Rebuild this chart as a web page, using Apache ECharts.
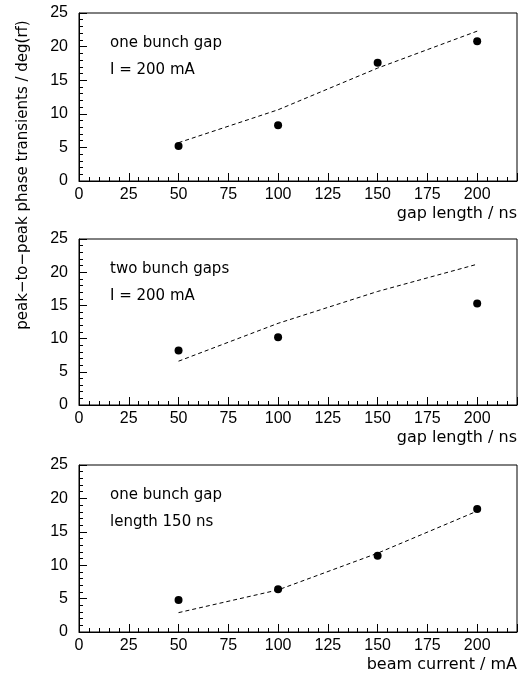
<!DOCTYPE html>
<html lang="en">
<head>
    <meta charset="UTF-8">
    <title>phase transients</title>
    <script src="https://cdn.jsdelivr.net/npm/echarts@6/dist/echarts.min.js"></script>
    <style>
        html, body { margin: 0; padding: 0; background: #fff; }
        #main { width: 527px; height: 677px; }
    </style>
</head>
<body>
<div id="main"></div>
<script type="text/javascript">
  // x positions (ns or mA)
  var xVals = [50, 100, 150, 200];

  // panel 1: one bunch gap, I = 200 mA
  var meas1 = [5.2, 8.3, 17.6, 20.8];
  var calc1 = [5.7, 10.6, 16.8, 22.3];
  // panel 2: two bunch gaps, I = 200 mA (no point at 150)
  var meas2X = [50, 100, 200];
  var meas2 = [8.2, 10.2, 15.3];
  var calc2 = [6.6, 12.3, 17.1, 21.2];
  // panel 3: one bunch gap, length 150 ns
  var meas3 = [4.8, 6.4, 11.4, 18.4];
  var calc3 = [2.9, 6.3, 11.8, 18.1];

  var panelText = [
    ['one bunch gap', 'I = 200 mA'],
    ['two bunch gaps', 'I = 200 mA'],
    ['one bunch gap', 'length 150 ns']
  ];
  var xNames = ['gap length / ns', 'gap length / ns', 'beam current / mA'];
  var yTitle = 'peak\u2212to\u2212peak phase transients / deg(rf)';

  var FONT = 'DejaVu Sans';
  var NUMFONT = 'Liberation Sans';
  var tops = [13, 239, 465];
  var heights = [168, 166, 167];

  function pairs(xs, ys) {
    var out = [];
    for (var i = 0; i < ys.length; i++) out.push([xs[i], ys[i]]);
    return out;
  }

  var grids = [], xAxes = [], yAxes = [], series = [], graphics = [];
  var measList = [pairs(xVals, meas1), pairs(meas2X, meas2), pairs(xVals, meas3)];
  var calcList = [pairs(xVals, calc1), pairs(xVals, calc2), pairs(xVals, calc3)];

  for (var p = 0; p < 3; p++) {
    grids.push({
      left: 79, top: tops[p], width: 438, height: heights[p],
      show: true, borderColor: '#000', borderWidth: 1, backgroundColor: 'transparent'
    });
    // major axis with labels
    xAxes.push({
      gridIndex: p, type: 'value', min: 0, max: 220, interval: 25, position: 'bottom',
      axisLine: { lineStyle: { color: '#000', width: 1 } },
      axisTick: { inside: true, length: 8, lineStyle: { color: '#000' } },
      axisLabel: {
        color: '#000', fontFamily: NUMFONT, fontSize: 16, margin: 6,
        formatter: function (v) { return v > 200 ? '' : v; }
      },
      splitLine: { show: false }
    });
    // minor ticks every 5
    xAxes.push({
      gridIndex: p, type: 'value', min: 0, max: 220, interval: 5, position: 'bottom', offset: 0,
      axisLine: { show: false },
      axisTick: { inside: true, length: 4, lineStyle: { color: '#000' } },
      axisLabel: { show: false },
      splitLine: { show: false }
    });
    yAxes.push({
      gridIndex: p, type: 'value', min: 0, max: 25, interval: 5, position: 'left',
      axisLine: { show: true, lineStyle: { color: '#000', width: 1 } },
      axisTick: { show: true, inside: true, length: 8, lineStyle: { color: '#000' } },
      axisLabel: { color: '#000', fontFamily: NUMFONT, fontSize: 16, margin: 11 },
      splitLine: { show: false }
    });
    yAxes.push({
      gridIndex: p, type: 'value', min: 0, max: 25, interval: 1, position: 'left', offset: 0,
      axisLine: { show: false },
      axisTick: { show: true, inside: true, length: 4, lineStyle: { color: '#000' } },
      axisLabel: { show: false },
      splitLine: { show: false }
    });

    series.push({
      type: 'line', xAxisIndex: p * 2, yAxisIndex: p * 2,
      data: calcList[p], showSymbol: false, symbol: 'none', silent: true,
      lineStyle: { color: '#000', width: 1, type: [4, 3] }
    });
    series.push({
      type: 'scatter', xAxisIndex: p * 2, yAxisIndex: p * 2,
      data: measList[p], symbol: 'circle', symbolSize: 8,
      itemStyle: { color: '#000', opacity: 1 }
    });

    graphics.push({
      type: 'text', left: 110, top: tops[p] + 23,
      style: { text: panelText[p][0], fill: '#000', font: '15px "' + FONT + '"' }
    });
    graphics.push({
      type: 'text', left: 110, top: tops[p] + 50,
      style: { text: panelText[p][1], fill: '#000', font: '15px "' + FONT + '"' }
    });
    graphics.push({
      type: 'text', right: 10, top: tops[p] + heights[p] + 25,
      style: { text: xNames[p], fill: '#000', font: '16px "' + FONT + '"' }
    });
  }

  graphics.push({
    type: 'text', x: 23, y: 175, rotation: Math.PI / 2,
    style: {
      text: yTitle, fill: '#000', font: '15px "' + FONT + '"',
      align: 'center', verticalAlign: 'middle'
    }
  });

  var myChart = echarts.init(document.getElementById('main'));
  var option = {
    backgroundColor: '#fff',
    animation: false,
    grid: grids,
    xAxis: xAxes,
    yAxis: yAxes,
    series: series,
    graphic: graphics
  };
  myChart.setOption(option);
</script>
</body>
</html>
